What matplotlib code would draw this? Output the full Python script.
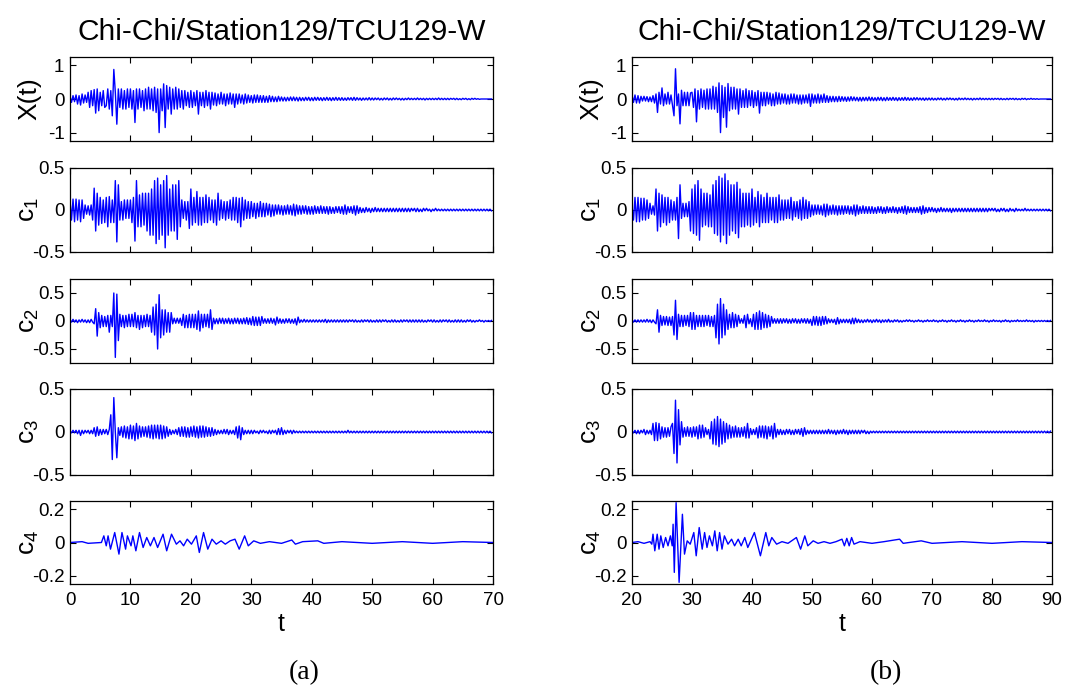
"""Chi-Chi TCU129-W record and its first four IMF components (c1..c4),
two windows side by side: (a) t = 0..70 s, (b) t = 20..90 s.

Traces are transcribed from the figure as peak samples every DT seconds
(c4 as explicit peak times, since it is slow enough to read each swing).
"""

import matplotlib
matplotlib.use("Agg")
import matplotlib.pyplot as plt
import numpy as np

DT = 0.25
T0_A = 0.0
T0_B = 20.0

TITLE = "Chi-Chi/Station129/TCU129-W"
YLABELS = ["X(t)", r"c$_1$", r"c$_2$", r"c$_3$", r"c$_4$"]
YLIMS = [1.25, 0.5, 0.75, 0.5, 0.25]
YTICKS = [[-1, 0, 1], [-0.5, 0, 0.5], [-0.5, 0, 0.5], [-0.5, 0, 0.5], [-0.2, 0, 0.2]]
YTICKLABELS = [["-1", "0", "1"], ["-0.5", "0", "0.5"], ["-0.5", "0", "0.5"],
               ["-0.5", "0", "0.5"], ["-0.2", "0", "0.2"]]
XTICKS_A = [0, 10, 20, 30, 40, 50, 60, 70]
XTICKS_B = [20, 30, 40, 50, 60, 70, 80, 90]
PANEL_TAGS = ["(a)", "(b)"]

# ---- column (a), samples every DT from t = 0 ----
xa = [
    0.08, -0.1, 0.1, -0.08, 0.12, -0.15, 0.1, -0.18, 0.15, -0.12, 0.12, -0.1, 0.2, -0.25, 0.25, -0.2, 0.28, -0.42, 0.3, -0.35,
    0.2, -0.2, 0.25, -0.25, -0.2, 0.3, -0.3, 0.25, -0.5, 0.88, 0.2, -0.75, 0.3, -0.25, 0.3, -0.3, 0.25, -0.3, 0.3, -0.25,
    0.3, -0.3, 0.25, -0.7, 0.3, -0.3, 0.3, -0.25, 0.25, -0.35, 0.3, -0.3, 0.35, -0.3, 0.3, -0.35, 0.35, -0.4, 0.3, -1.0,
    0.3, -0.35, 0.45, -0.85, 0.4, -0.3, 0.35, -0.45, 0.3, -0.3, 0.35, -0.3, 0.3, -0.25, 0.25, -0.3, 0.25, -0.2, 0.2, -0.25,
    0.25, -0.25, 0.2, -0.2, 0.25, -0.45, 0.2, -0.2, 0.2, -0.25, 0.25, -0.2, 0.2, -0.3, 0.2, -0.18, 0.18, -0.2, 0.15, -0.15,
    0.2, -0.15, 0.15, -0.2, 0.15, -0.15, 0.18, -0.15, 0.15, -0.25, 0.15, -0.15, 0.15, -0.12, 0.12, -0.15, 0.15, -0.12, 0.12, -0.1,
    0.1, -0.12, 0.12, -0.1, 0.12, -0.1, 0.1, -0.1, 0.1, -0.1, 0.08, -0.1, 0.1, -0.08, 0.08, -0.08, 0.06, -0.08, 0.08, -0.06,
    0.06, -0.06, 0.05, -0.06, 0.05, -0.05, 0.06, -0.05, 0.06, -0.05, 0.05, -0.06, 0.05, -0.05, 0.04, -0.05, 0.05, -0.04, 0.05, -0.05,
    0.04, -0.05, 0.05, -0.04, 0.05, -0.04, 0.04, -0.05, 0.04, -0.04, 0.05, -0.04, 0.04, -0.05, 0.04, -0.04, 0.05, -0.04, 0.04, -0.04,
    0.04, -0.04, 0.03, -0.04, 0.04, -0.03, 0.04, -0.04, 0.05, -0.04, 0.04, -0.03, 0.03, -0.04, 0.03, -0.03, 0.03, -0.03, 0.04, -0.03,
    0.03, -0.03, 0.03, -0.02, 0.03, -0.03, 0.02, -0.03, 0.03, -0.02, 0.03, -0.03, 0.02, -0.03, 0.03, -0.02, 0.03, -0.02, 0.02, -0.03,
    0.02, -0.03, 0.02, -0.02, 0.03, -0.02, 0.02, -0.02, 0.02, -0.02, 0.03, -0.02, 0.02, -0.02, 0.02, -0.03, 0.02, -0.02, 0.02, -0.02,
    0.02, -0.02, 0.02, -0.02, 0.03, -0.02, 0.02, -0.02, 0.02, -0.02, 0.02, -0.02, 0.02, -0.01, 0.02, -0.02, 0.02, -0.02, 0.01, -0.02,
    0.02, -0.01, 0.02, -0.02, 0.01, -0.02, 0.02, -0.01, 0.02, -0.01, 0.01, -0.01, 0, 0, 0, 0, 0, 0, 0, 0,
]
c1a = [
    0.12, -0.12, 0.13, -0.14, 0.13, -0.12, 0.12, -0.14, 0.12, -0.1, 0.06, -0.05, 0.05, -0.06, 0.06, -0.12, 0.26, -0.25, 0.2, -0.18,
    0.15, -0.16, 0.12, -0.15, 0.15, -0.2, 0.16, -0.15, 0.12, -0.15, 0.35, -0.38, 0.3, -0.12, 0.1, -0.12, 0.12, -0.1, 0.12, -0.1,
    0.12, -0.15, 0.15, -0.37, 0.35, -0.2, 0.18, -0.2, 0.2, -0.18, 0.2, -0.25, 0.2, -0.3, 0.25, -0.3, 0.35, -0.4, 0.38, -0.35,
    0.3, -0.3, 0.35, -0.45, 0.41, -0.3, 0.25, -0.25, 0.3, -0.25, 0.3, -0.35, 0.35, -0.2, 0.12, -0.1, 0.1, -0.12, 0.1, -0.22,
    0.25, -0.18, 0.15, -0.15, 0.22, -0.18, 0.15, -0.18, 0.15, -0.15, 0.18, -0.15, 0.15, -0.12, 0.12, -0.15, 0.12, -0.18, 0.2, -0.12,
    0.12, -0.1, 0.1, -0.12, 0.1, -0.1, 0.12, -0.12, 0.15, -0.12, 0.15, -0.15, 0.14, -0.2, 0.15, -0.12, 0.12, -0.1, 0.1, -0.1,
    0.1, -0.08, 0.08, -0.1, 0.08, -0.08, 0.1, -0.08, 0.08, -0.08, 0.08, -0.06, 0.07, -0.08, 0.06, -0.07, 0.06, -0.05, 0.06, -0.05,
    0.05, -0.06, 0.05, -0.05, 0.06, -0.05, 0.05, -0.06, 0.07, -0.07, 0.06, -0.05, 0.05, -0.05, 0.05, -0.04, 0.05, -0.05, 0.04, -0.05,
    0.04, -0.05, 0.05, -0.04, 0.04, -0.04, 0.05, -0.04, 0.04, -0.04, 0.04, -0.05, 0.04, -0.04, 0.03, -0.04, 0.04, -0.03, 0.04, -0.04,
    0.04, -0.05, 0.06, -0.05, 0.04, -0.03, 0.04, -0.04, 0.05, -0.06, 0.05, -0.04, 0.03, -0.03, 0.02, -0.03, 0.03, -0.02, 0.02, -0.03,
    0.02, -0.02, 0.03, -0.02, 0.02, -0.02, 0.02, -0.02, 0.02, -0.02, 0.02, -0.02, 0.02, -0.02, 0.02, -0.02, 0.02, -0.02, 0.02, -0.02,
    0.02, -0.02, 0.02, -0.02, 0.02, -0.02, 0.02, -0.01, 0.02, -0.02, 0.02, -0.02, 0.01, -0.02, 0.02, -0.01, 0.02, -0.01, 0.01, -0.02,
    0.01, -0.01, 0.02, -0.01, 0.01, -0.01, 0.01, -0.01, 0.01, -0.01, 0.01, -0.01, 0.01, -0.01, 0.01, -0.01, 0.01, -0.01, 0.01, -0.01,
    0.01, -0.01, 0.01, -0.01, 0.01, -0.01, 0.01, -0.01, 0.01, -0.01, 0.01, -0.01, 0.01, -0.01, 0.01, -0.01, 0.01, -0.01, 0.01, -0.01,
]
c2a = [
    0.02, -0.02, 0.03, -0.02, 0.02, -0.03, 0.02, -0.02, 0.03, -0.02, 0.02, -0.03, 0.02, -0.03, 0.03, -0.02, -0.05, 0.22, -0.27, 0.15,
    -0.12, 0.1, -0.1, 0.08, -0.1, 0.1, -0.2, 0.1, -0.1, 0.5, -0.65, 0.48, -0.35, 0.12, -0.1, 0.1, -0.12, 0.1, -0.1, 0.12,
    -0.1, 0.12, -0.1, 0.15, -0.12, 0.1, -0.15, 0.1, -0.12, 0.1, -0.1, 0.12, -0.1, 0.1, -0.2, 0.25, -0.25, 0.3, -0.5, 0.47,
    -0.3, 0.2, -0.25, 0.2, -0.2, 0.15, -0.2, 0.15, -0.05, 0.05, -0.04, 0.05, -0.04, 0.05, -0.08, 0.12, -0.12, 0.1, -0.12, 0.12,
    -0.12, 0.12, -0.12, 0.12, -0.15, 0.18, -0.18, 0.12, -0.12, 0.12, -0.1, 0.12, -0.12, 0.2, -0.15, 0.05, -0.05, 0.04, -0.05, 0.05,
    -0.04, 0.05, -0.05, 0.04, -0.04, 0.05, -0.05, 0.04, -0.05, 0.05, -0.04, 0.05, -0.05, 0.04, -0.05, 0.05, -0.05, 0.06, -0.06, 0.05,
    -0.07, 0.08, -0.08, 0.07, -0.08, 0.07, -0.08, 0.08, -0.04, 0.04, -0.04, 0.04, -0.04, 0.05, -0.04, 0.04, -0.07, 0.07, -0.04, 0.04,
    -0.04, 0.03, -0.04, 0.04, -0.03, 0.04, -0.04, 0.03, -0.04, 0.04, -0.07, 0.07, -0.03, 0.02, -0.02, 0.03, -0.02, 0.02, -0.02, 0.02,
    -0.02, 0.02, -0.02, 0.02, -0.02, 0.02, -0.02, 0.02, -0.02, 0.03, -0.03, 0.02, -0.02, 0.02, -0.02, 0.02, -0.02, 0.02, -0.02, 0.02,
    -0.02, 0.02, -0.02, 0.02, -0.02, 0.02, -0.01, 0.02, -0.02, 0.02, -0.02, 0.01, -0.02, 0.02, -0.02, 0.02, -0.01, 0.02, -0.02, 0.02,
    -0.02, 0.01, -0.02, 0.02, -0.02, 0.02, -0.02, 0.02, -0.01, 0.02, -0.02, 0.01, -0.02, 0.02, -0.02, 0.02, -0.02, 0.01, -0.02, 0.02,
    -0.02, 0.02, -0.01, 0.02, -0.02, 0.02, -0.02, 0.02, -0.02, 0.02, -0.02, 0.02, -0.02, 0.02, -0.02, 0.01, -0.02, 0.02, -0.01, 0.02,
    -0.02, 0.02, -0.02, 0.01, -0.02, 0.02, -0.02, 0.02, -0.01, 0.02, -0.02, 0.02, -0.02, 0.01, -0.02, 0.02, -0.02, 0.02, -0.02, 0.02,
    -0.02, 0.01, -0.02, 0.02, -0.01, 0.02, -0.02, 0.01, -0.02, 0.01, -0.01, 0.02, -0.01, 0.01, -0.02, 0.01, -0.01, 0.01, -0.01, 0.01,
]
c3a = [
    0.01, -0.01, 0.02, -0.01, 0.02, -0.02, 0.02, -0.04, 0.02, -0.02, 0.02, -0.01, 0.02, -0.02, 0.02, -0.02, 0.05, -0.05, 0.06, -0.04,
    0.03, -0.03, 0.03, -0.02, 0.03, -0.03, 0.03, 0.2, -0.32, 0.4, 0.0, -0.3, 0.05, -0.04, 0.06, -0.06, 0.07, -0.07, 0.06, -0.08,
    0.08, -0.08, 0.07, -0.1, 0.1, -0.08, 0.07, -0.06, 0.06, -0.05, 0.06, -0.06, 0.07, -0.07, 0.08, -0.08, 0.08, -0.07, 0.08, -0.08,
    0.08, -0.08, 0.07, -0.07, 0.06, -0.05, 0.03, -0.03, 0.02, -0.02, 0.03, -0.03, 0.05, -0.05, 0.06, -0.05, 0.06, -0.06, 0.05, -0.06,
    0.06, -0.05, 0.07, -0.06, 0.06, -0.07, 0.07, -0.06, 0.07, -0.06, 0.06, -0.05, 0.05, -0.05, 0.05, -0.04, 0.03, -0.03, 0.02, -0.02,
    0.02, -0.02, 0.03, -0.02, 0.03, -0.03, 0.02, -0.02, 0.02, -0.03, 0.06, -0.07, 0.07, -0.09, 0.05, -0.03, 0.02, -0.02, 0.02, -0.02,
    0.02, -0.02, 0.02, -0.01, 0.01, -0.02, 0.02, -0.01, 0.02, -0.01, 0.01, -0.02, 0.02, -0.02, 0.02, -0.01, 0.02, -0.03, 0.04, -0.03,
    0.05, -0.03, 0.02, -0.02, 0.02, -0.01, 0.02, -0.02, 0.02, -0.01, 0.01, -0.01, 0.01, -0.01, 0.01, -0.01, 0.01, -0.01, 0.01, -0.01,
    0.01, -0.01, 0.01, -0.01, 0.01, -0.01, 0.01, -0.01, 0.01, -0.01, 0.01, -0.01, 0.01, -0.01, 0.01, -0.01, 0.01, -0.01, 0.01, -0.01,
    0.01, -0.01, 0.01, -0.01, 0.02, -0.01, 0.01, -0.01, 0.01, -0.01, 0.01, -0.01, 0.01, -0.01, 0.01, -0.01, 0.01, -0.01, 0.01, -0.01,
    0.01, -0.01, 0.01, -0.01, 0.01, -0.01, 0.01, -0.01, 0.01, -0.01, 0.01, -0.01, 0.01, -0.01, 0.01, -0.01, 0.01, -0.01, 0.01, -0.01,
    0.01, -0.01, 0.01, -0.01, 0.01, -0.01, 0.01, -0.01, 0.01, -0.01, 0.01, -0.01, 0.01, -0.01, 0.01, -0.01, 0.01, -0.01, 0.01, -0.01,
    0.01, -0.01, 0.01, -0.01, 0.01, -0.01, 0.01, -0.01, 0.01, -0.01, 0.01, -0.01, 0.01, -0.01, 0.01, -0.01, 0.01, -0.01, 0.01, -0.01,
    0.01, -0.01, 0.01, -0.01, 0.01, -0.01, 0.01, -0.01, 0.01, -0.01, 0.01, -0.01, 0.01, -0.01, 0.01, -0.01, 0.01, -0.01, 0.01, -0.01,
]
c4a_t = [0, 2, 3, 5.2, 5.6, 6.0, 6.3, 6.7, 7.4, 8.1, 8.6, 9.2, 9.5, 10.1, 10.4, 10.9, 11.5, 12.1,
         12.7, 13.3, 13.9, 14.5, 15.4, 16.0, 16.8, 17.6, 18.2, 18.8, 19.4, 20.1, 20.9, 21.4, 22.1,
         22.8, 23.5, 24.2, 25.0, 25.7, 26.5, 27.3, 28.0, 28.9, 29.5, 30.4, 31.5, 33, 35, 36.7, 37.3,
         38.5, 41, 42, 45, 50, 55, 60, 65, 70]
c4a = [0, 0.005, -0.005, 0.0, 0.04, -0.02, 0.04, -0.04, 0.06, -0.07, 0.06, -0.04, 0.04, -0.02, 0.04,
       -0.05, 0.06, -0.03, 0.03, -0.02, 0.03, -0.03, 0.05, -0.05, 0.05, -0.01, 0.01, -0.02, 0.02, -0.01,
       0.04, -0.06, 0.06, -0.04, 0.02, -0.01, 0.01, -0.01, 0.01, 0.02, -0.04, 0.04, -0.02, 0.01, -0.005,
       0.005, -0.005, 0.015, -0.01, 0.005, 0.01, -0.005, 0.005, -0.005, 0.005, -0.005, 0.005, 0]

# ---- column (b), samples every DT from t = 20 ----
xb = [
    0.12, -0.1, 0.12, -0.12, 0.1, -0.12, 0.08, -0.06, 0.08, -0.06, 0.07, -0.08, 0.06, -0.08, 0.1, -0.12, 0.15, -0.4, 0.2, -0.15,
    0.33, -0.2, 0.15, -0.15, 0.2, -0.15, 0.12, -0.2, -0.5, 0.9, -0.2, 0.15, -0.74, 0.26, -0.2, 0.2, -0.2, 0.2, -0.2, 0.18,
    0.2, -0.25, 0.3, -0.68, 0.25, -0.3, 0.3, -0.25, 0.26, -0.3, 0.3, -0.3, 0.3, -0.3, 0.38, -0.3, 0.35, -0.4, 0.48, -1.0,
    0.4, -0.55, 0.35, -0.84, 0.46, -0.35, 0.35, -0.3, 0.35, -0.3, 0.3, -0.45, 0.3, -0.25, 0.25, -0.25, 0.3, -0.25, 0.25, -0.2,
    0.25, -0.25, 0.2, -0.2, 0.25, -0.42, 0.2, -0.2, 0.2, -0.2, 0.2, -0.15, 0.18, -0.2, 0.15, -0.2, 0.2, -0.15, 0.18, -0.15,
    0.15, -0.12, 0.15, -0.15, 0.12, -0.15, 0.15, -0.12, 0.15, -0.12, 0.12, -0.15, 0.12, -0.15, 0.12, -0.12, 0.12, -0.12, 0.15, -0.22,
    0.15, -0.12, 0.12, -0.12, 0.15, -0.12, 0.12, -0.1, 0.15, -0.1, 0.1, -0.1, 0.08, -0.08, 0.08, -0.08, 0.07, -0.08, 0.08, -0.07,
    0.07, -0.06, 0.06, -0.07, 0.06, -0.06, 0.07, -0.05, 0.06, -0.05, 0.05, -0.06, 0.05, -0.06, 0.05, -0.05, 0.05, -0.05, 0.06, -0.05,
    0.05, -0.05, 0.04, -0.05, 0.05, -0.04, 0.05, -0.05, 0.04, -0.05, 0.05, -0.04, 0.04, -0.04, 0.05, -0.04, 0.04, -0.05, 0.04, -0.04,
    0.04, -0.04, 0.05, -0.04, 0.04, -0.04, 0.03, -0.04, 0.04, -0.03, 0.04, -0.03, 0.03, -0.03, 0.03, -0.04, 0.03, -0.03, 0.03, -0.03,
    0.03, -0.03, 0.02, -0.03, 0.03, -0.02, 0.03, -0.03, 0.02, -0.03, 0.03, -0.02, 0.03, -0.02, 0.02, -0.03, 0.02, -0.03, 0.03, -0.02,
    0.02, -0.02, 0.03, -0.02, 0.02, -0.02, 0.02, -0.03, 0.02, -0.02, 0.02, -0.02, 0.03, -0.02, 0.02, -0.02, 0.02, -0.02, 0.02, -0.02,
    0.02, -0.02, 0.02, -0.01, 0.02, -0.02, 0.02, -0.02, 0.01, -0.02, 0.02, -0.02, 0.02, -0.01, 0.02, -0.02, 0.02, -0.02, 0.01, -0.02,
    0.02, -0.01, 0.02, -0.02, 0.01, -0.01, 0.02, -0.01, 0.01, -0.01, 0.01, -0.01, 0, 0, 0, 0, 0, 0, 0, 0,
]
c1b = [
    0.05, -0.12, 0.15, -0.14, 0.15, -0.14, 0.14, -0.12, 0.14, -0.12, 0.12, -0.1, 0.08, -0.05, 0.05, -0.06, 0.25, -0.25, 0.2, -0.2,
    0.18, -0.15, 0.15, -0.18, 0.15, -0.15, 0.12, -0.12, 0.1, -0.12, 0.15, -0.34, 0.3, -0.1, 0.08, -0.08, 0.08, -0.08, 0.1, -0.25,
    0.25, -0.28, 0.3, -0.3, 0.35, -0.36, 0.25, -0.2, 0.2, -0.18, 0.2, -0.2, 0.18, -0.2, 0.3, -0.28, 0.35, -0.3, 0.4, -0.38,
    0.38, -0.3, 0.43, -0.4, 0.35, -0.3, 0.3, -0.25, 0.3, -0.28, 0.33, -0.33, 0.25, -0.2, 0.2, -0.2, 0.2, -0.18, 0.2, -0.2,
    0.25, -0.18, 0.15, -0.15, 0.22, -0.2, 0.18, -0.15, 0.15, -0.15, 0.2, -0.15, 0.15, -0.12, 0.15, -0.15, 0.15, -0.15, 0.18, -0.12,
    0.12, -0.12, 0.12, -0.1, 0.12, -0.1, 0.15, -0.12, 0.1, -0.08, 0.1, -0.1, 0.12, -0.12, 0.15, -0.1, 0.12, -0.1, 0.1, -0.08,
    0.06, -0.06, 0.06, -0.05, 0.06, -0.05, 0.05, -0.06, 0.07, -0.08, 0.07, -0.06, 0.05, -0.05, 0.06, -0.05, 0.05, -0.06, 0.05, -0.05,
    0.05, -0.05, 0.05, -0.04, 0.05, -0.05, 0.04, -0.05, 0.06, -0.07, 0.06, -0.05, 0.04, -0.04, 0.05, -0.04, 0.04, -0.04, 0.04, -0.04,
    0.04, -0.04, 0.03, -0.04, 0.04, -0.03, 0.04, -0.04, 0.03, -0.04, 0.04, -0.03, 0.03, -0.03, 0.04, -0.03, 0.03, -0.04, 0.03, -0.03,
    0.04, -0.04, 0.05, -0.05, 0.04, -0.03, 0.03, -0.03, 0.03, -0.03, 0.03, -0.03, 0.04, -0.05, 0.05, -0.04, 0.03, -0.03, 0.03, -0.02,
    0.03, -0.02, 0.02, -0.03, 0.02, -0.02, 0.03, -0.02, 0.02, -0.02, 0.02, -0.02, 0.02, -0.03, 0.02, -0.02, 0.02, -0.02, 0.02, -0.02,
    0.02, -0.02, 0.02, -0.02, 0.02, -0.02, 0.02, -0.02, 0.02, -0.02, 0.02, -0.02, 0.02, -0.02, 0.02, -0.02, 0.02, -0.02, 0.02, -0.01,
    0.02, -0.01, 0.02, -0.02, 0.01, -0.02, 0.02, -0.01, 0.02, -0.02, 0.01, -0.02, 0.02, -0.01, 0.01, -0.02, 0.02, -0.01, 0.01, -0.01,
    0.01, -0.01, 0.02, -0.01, 0.01, -0.01, 0.01, -0.01, 0.01, -0.01, 0.01, -0.01, 0.01, -0.01, 0.01, -0.01, 0.01, -0.01, 0.01, -0.01,
]
c2b = [
    0.02, -0.02, 0.02, -0.02, 0.02, -0.02, 0.02, -0.02, 0.02, -0.02, 0.03, -0.02, 0.02, -0.03, 0.02, -0.02, -0.05, 0.2, -0.2, 0.1,
    -0.08, 0.08, -0.07, 0.08, -0.08, 0.07, -0.08, 0.08, -0.25, 0.37, -0.33, 0.12, -0.1, 0.1, -0.1, 0.1, -0.08, 0.1, -0.1, 0.15,
    -0.15, 0.15, -0.15, 0.1, -0.1, 0.1, -0.1, 0.1, -0.1, 0.1, -0.08, 0.1, -0.1, 0.08, -0.1, 0.1, -0.3, 0.3, -0.41, 0.4,
    -0.3, 0.3, -0.25, 0.2, -0.15, 0.12, -0.12, 0.15, -0.12, 0.12, -0.1, 0.1, -0.04, 0.04, -0.04, 0.1, -0.12, 0.12, -0.05, 0.04,
    -0.1, 0.12, -0.15, 0.15, -0.15, 0.18, -0.15, 0.15, -0.12, 0.12, -0.12, 0.1, -0.1, 0.08, -0.04, 0.04, -0.04, 0.04, -0.04, 0.04,
    -0.04, 0.04, -0.03, 0.04, -0.04, 0.03, -0.04, 0.04, -0.03, 0.04, -0.04, 0.03, -0.04, 0.04, -0.03, 0.04, -0.04, 0.04, -0.04, 0.03,
    -0.08, 0.08, -0.07, 0.08, -0.08, 0.07, -0.08, 0.08, -0.06, 0.08, -0.05, 0.04, -0.03, 0.03, -0.03, 0.03, -0.06, 0.06, -0.05, 0.03,
    -0.03, 0.03, -0.03, 0.03, -0.03, 0.03, -0.05, 0.05, -0.05, 0.05, -0.03, 0.03, -0.03, 0.02, -0.03, 0.02, -0.02, 0.03, -0.02, 0.02,
    -0.03, 0.02, -0.02, 0.03, -0.02, 0.02, -0.03, 0.02, -0.02, 0.02, -0.02, 0.03, -0.02, 0.01, -0.02, 0.02, -0.01, 0.02, -0.02, 0.01,
    -0.02, 0.01, -0.01, 0.02, -0.01, 0.02, -0.01, 0.01, -0.02, 0.01, -0.01, 0.02, -0.01, 0.01, -0.02, 0.01, -0.01, 0.02, -0.01, 0.01,
    -0.01, 0.02, -0.01, 0.01, -0.02, 0.01, -0.01, 0.02, -0.01, 0.01, -0.02, 0.01, -0.01, 0.02, -0.01, 0.01, -0.02, 0.01, -0.01, 0.02,
    -0.01, 0.01, -0.02, 0.01, -0.01, 0.02, -0.01, 0.01, -0.02, 0.01, -0.01, 0.02, -0.01, 0.01, -0.01, 0.02, -0.01, 0.01, -0.02, 0.01,
    -0.01, 0.02, -0.01, 0.01, -0.01, 0.01, -0.02, 0.01, -0.01, 0.02, -0.01, 0.01, -0.02, 0.01, -0.01, 0.01, -0.01, 0.02, -0.01, 0.01,
    -0.01, 0.01, -0.01, 0.02, -0.01, 0.01, -0.01, 0.01, -0.02, 0.01, -0.01, 0.01, -0.01, 0.01, -0.01, 0.01, -0.01, 0.01, -0.01, 0.01,
]
c3b = [
    0.01, -0.01, 0.02, -0.02, 0.02, -0.02, 0.02, -0.01, 0.03, -0.03, 0.02, -0.02, 0.02, -0.03, 0.1, -0.1, 0.11, -0.1, 0.1, -0.08,
    0.06, -0.06, 0.05, -0.06, 0.05, -0.05, 0.06, 0.1, -0.25, 0.37, -0.36, 0.26, -0.15, 0.12, -0.06, 0.05, -0.05, 0.06, -0.05, 0.05,
    -0.06, 0.06, -0.05, 0.06, -0.08, 0.08, -0.07, 0.08, -0.06, 0.05, -0.03, 0.03, -0.08, 0.12, -0.14, 0.15, -0.15, 0.18, -0.17, 0.15,
    -0.14, 0.12, -0.12, 0.1, -0.08, 0.08, -0.07, 0.06, -0.06, 0.07, -0.06, 0.05, -0.06, 0.05, -0.05, 0.06, -0.07, 0.1, -0.07, 0.04,
    -0.03, 0.03, -0.03, 0.05, -0.07, 0.07, -0.06, 0.07, -0.07, 0.07, -0.08, 0.06, -0.05, 0.07, -0.08, 0.1, -0.06, 0.03, -0.03, 0.03,
    -0.03, 0.02, -0.03, 0.03, -0.02, 0.03, -0.03, 0.02, -0.03, 0.03, -0.02, 0.03, -0.03, 0.04, -0.05, 0.05, -0.03, 0.02, -0.02, 0.02,
    -0.02, 0.02, -0.02, 0.02, -0.02, 0.02, -0.02, 0.02, -0.02, 0.02, -0.02, 0.03, -0.02, 0.02, -0.02, 0.02, -0.03, 0.02, -0.02, 0.02,
    -0.02, 0.03, -0.02, 0.02, -0.03, 0.02, -0.02, 0.02, -0.02, 0.02, -0.02, 0.02, -0.02, 0.02, -0.01, 0.02, -0.02, 0.01, -0.02, 0.01,
    -0.01, 0.01, -0.01, 0.01, -0.01, 0.01, -0.01, 0.01, -0.01, 0.01, -0.01, 0.01, -0.01, 0.01, -0.01, 0.01, -0.01, 0.01, -0.01, 0.01,
    -0.01, 0.01, -0.01, 0.01, -0.01, 0.01, -0.01, 0.01, -0.01, 0.01, -0.01, 0.01, -0.01, 0.01, -0.01, 0.01, -0.01, 0.01, -0.01, 0.01,
    -0.01, 0.01, -0.01, 0.01, -0.01, 0.01, -0.01, 0.01, -0.01, 0.01, -0.01, 0.01, -0.01, 0.01, -0.01, 0.01, -0.01, 0.01, -0.01, 0.01,
    -0.01, 0.01, -0.01, 0.01, -0.01, 0.01, -0.01, 0.01, -0.01, 0.01, -0.01, 0.01, -0.01, 0.01, -0.01, 0.01, -0.01, 0.01, -0.01, 0.01,
    -0.01, 0.01, -0.01, 0.01, -0.01, 0.01, -0.01, 0.01, -0.01, 0.01, -0.01, 0.01, -0.01, 0.01, -0.01, 0.01, -0.01, 0.01, -0.01, 0.01,
    -0.01, 0.01, -0.01, 0.01, -0.01, 0.01, -0.01, 0.01, -0.01, 0.01, -0.01, 0.01, -0.01, 0.01, -0.01, 0.01, -0.01, 0.01, -0.01, 0.01,
]
c4b_t = [20, 21, 22, 23, 23.3, 23.5, 23.8, 24.2, 24.5, 24.8, 25.2, 25.6, 26.0, 26.4, 26.7, 26.85, 27.05,
         27.35, 27.85, 28.4, 28.75, 29.2, 29.7, 30.3, 30.7, 31.2, 31.7, 32.1, 32.5, 32.9, 33.4, 33.8,
         34.2, 34.6, 35.0, 35.4, 36.0, 36.6, 37.1, 37.7, 38.2, 38.8, 39.3, 40.4, 41.4, 42.3, 42.8, 43.3,
         44.1, 45, 46, 47.4, 48.1, 48.8, 49.3, 50.2, 51, 52, 53, 54, 55, 55.4, 55.8, 56.2, 56.6, 57,
         58, 60, 62, 64.6, 65.2, 68.2, 70, 75, 80, 85, 90]
c4b = [0, 0.005, -0.005, 0.005, -0.01, 0.05, -0.05, 0.05, -0.04, 0.04, -0.03, 0.03, -0.02, 0.04, -0.02,
       0.11, -0.18, 0.24, -0.24, 0.17, -0.07, 0.01, -0.01, 0.06, -0.08, 0.09, -0.04, 0.06, -0.03, 0.04,
       -0.02, 0.07, -0.05, 0.06, -0.04, 0.04, -0.01, 0.02, -0.02, 0.02, -0.02, 0.03, -0.03, 0.06, -0.08,
       0.06, -0.02, 0.03, -0.01, 0.005, -0.005, 0.03, -0.04, 0.04, -0.02, 0.01, -0.005, 0.005, -0.005,
       0.005, 0.02, -0.02, 0.025, -0.02, 0.03, -0.01, 0.005, -0.005, 0.005, 0.02, -0.005, 0.01, -0.005,
       0.005, -0.005, 0.005, 0]

LINE_COLOR = "#0000ff"
FIG_W, FIG_H = 1084, 692
ROWS_PX = [(57, 141), (168, 252), (279, 363), (389, 475), (501, 584)]
COLS_PX = [(70, 493), (632, 1052)]


def sample_times(t0, values):
    return t0 + DT * np.arange(len(values))


def draw_column(fig, col_px, traces, xlim, xticks, tag, tag_x):
    x0, x1 = col_px
    axes = []
    for i, (top, bot) in enumerate(ROWS_PX):
        ax = fig.add_axes([x0 / FIG_W, 1 - bot / FIG_H, (x1 - x0) / FIG_W, (bot - top) / FIG_H])
        t, y = traces[i]
        ax.plot(t, y, color=LINE_COLOR, linewidth=1.0)
        ax.set_xlim(*xlim)
        ax.set_ylim(-YLIMS[i], YLIMS[i])
        ax.set_yticks(YTICKS[i])
        ax.set_yticklabels(YTICKLABELS[i])
        ax.set_xticks(xticks)
        ax.tick_params(direction="in", length=4, width=0.8, top=True, right=True,
                       labelsize=13.5, pad=4)
        ax.tick_params(axis="x", pad=6)
        ax.set_ylabel(YLABELS[i], fontsize=19)
        ax.yaxis.set_label_coords(-0.068, 0.5)
        for s in ax.spines.values():
            s.set_linewidth(0.9)
        if i < len(ROWS_PX) - 1:
            ax.set_xticklabels([])
        else:
            ax.set_xlabel("t", fontsize=18, labelpad=2)
        axes.append(ax)
    axes[0].set_title(TITLE, fontsize=21.5, pad=12)
    fig.text(tag_x / FIG_W, 1 - 673 / FIG_H, tag, ha="center", va="center",
             fontsize=20, family="Liberation Serif")
    return axes


def main():
    plt.rcParams["font.family"] = ["Liberation Sans", "DejaVu Sans"]
    plt.rcParams["mathtext.fontset"] = "custom"
    plt.rcParams["mathtext.rm"] = "Liberation Sans"
    plt.rcParams["mathtext.it"] = "Liberation Sans"
    plt.rcParams["axes.unicode_minus"] = False

    fig = plt.figure(figsize=(FIG_W / 100, FIG_H / 100), dpi=100)

    traces_a = [
        (sample_times(T0_A, xa), xa),
        (sample_times(T0_A, c1a), c1a),
        (sample_times(T0_A, c2a), c2a),
        (sample_times(T0_A, c3a), c3a),
        (c4a_t, c4a),
    ]
    traces_b = [
        (sample_times(T0_B, xb), xb),
        (sample_times(T0_B, c1b), c1b),
        (sample_times(T0_B, c2b), c2b),
        (sample_times(T0_B, c3b), c3b),
        (c4b_t, c4b),
    ]
    draw_column(fig, COLS_PX[0], traces_a, (0, 70), XTICKS_A, PANEL_TAGS[0], 304)
    draw_column(fig, COLS_PX[1], traces_b, (20, 90), XTICKS_B, PANEL_TAGS[1], 886)

    fig.savefig("out.png", dpi=100)


if __name__ == "__main__":
    main()
